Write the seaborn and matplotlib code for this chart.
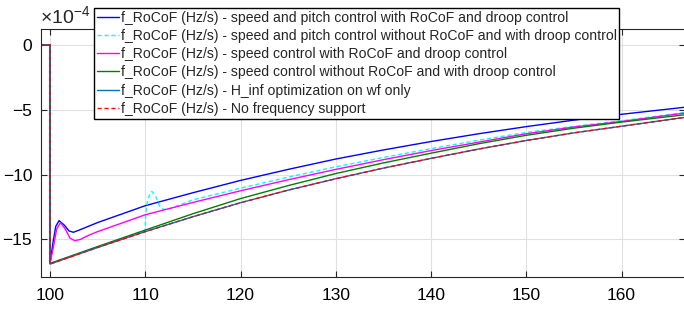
import matplotlib
matplotlib.use("Agg")
import matplotlib.pyplot as plt
import pandas as pd
import seaborn as sns

# values are in units of 1e-4 Hz/s (axis shows x10^-4)
t_blue = [99, 100, 100, 100.3, 100.6, 100.95, 101.5, 102.0, 102.45, 103, 104, 105, 110,
          115, 120, 125, 130, 135, 140, 145, 150, 155, 160, 166.7]
v_blue = [0, 0, -16.85, -15.3, -14.0, -13.55, -13.9, -14.35, -14.45, -14.3, -14.0, -13.7, -12.4,
          -11.4, -10.45, -9.6, -8.8, -8.1, -7.45, -6.85, -6.3, -5.8, -5.35, -4.8]

t_cyan = [99, 100, 100, 104.2, 110, 110.05, 110.3, 110.7, 111.1, 111.5, 111.9, 112.5,
          115, 120, 125, 130, 135, 140, 145, 150, 155, 160, 166.7]
v_cyan = [0, 0, -16.85, -15.8, -14.3, -13.0, -11.8, -11.3, -11.7, -12.4, -12.7, -12.65,
          -11.95, -11.05, -10.2, -9.4, -8.68, -8.0, -7.35, -6.75, -6.28, -5.85, -5.2]

t_mag = [99, 100, 100, 100.3, 100.7, 101.1, 101.6, 102.1, 102.6, 103.2, 104, 105, 110,
         115, 120, 125, 130, 135, 140, 145, 150, 155, 160, 166.7]
v_mag = [0, 0, -16.85, -15.8, -14.2, -13.7, -14.2, -14.9, -15.1, -15.0, -14.7, -14.4, -13.1,
         -12.15, -11.25, -10.4, -9.6, -8.85, -8.15, -7.5, -6.85, -6.33, -5.9, -5.25]

t_base = [99, 100, 100, 105, 110, 115, 120, 125, 130, 135, 140, 145, 150, 155, 160, 166.7]
v_green = [0, 0, -16.85, -15.55, -14.28, -13.02, -11.85, -10.85, -9.92, -9.1, -8.35, -7.62,
           -6.97, -6.42, -5.95, -5.38]
v_hinf = [0, 0, -16.9, -15.62, -14.4, -13.25, -12.17, -11.2, -10.32, -9.5, -8.75, -8.03,
          -7.37, -6.78, -6.27, -5.58]
v_nosup = [0, 0, -16.9, -15.62, -14.4, -13.25, -12.17, -11.2, -10.32, -9.5, -8.75, -8.03,
           -7.37, -6.78, -6.27, -5.58]

labels = [
    "f_RoCoF (Hz/s) - speed and pitch control with RoCoF and droop control",
    "f_RoCoF (Hz/s) - speed and pitch control without RoCoF and with droop control",
    "f_RoCoF (Hz/s) - speed control with RoCoF and droop control",
    "f_RoCoF (Hz/s) - speed control without RoCoF and with droop control",
    "f_RoCoF (Hz/s) - H_inf optimization on wf only",
    "f_RoCoF (Hz/s) - No frequency support",
]

sns.set_theme(style="whitegrid")
plt.rcParams["font.family"] = ["Liberation Sans", "DejaVu Sans"]
plt.rcParams["mathtext.fontset"] = "custom"
plt.rcParams["mathtext.rm"] = "Liberation Sans"
plt.rcParams["mathtext.it"] = "Liberation Sans"

fig = plt.figure(figsize=(6.84, 3.10), dpi=100)
ax = fig.add_axes([40.5 / 684, 1 - 277 / 310, 1.002 - 40.5 / 684, (277 - 29) / 310])

series = [
    (t_blue, v_blue, (0, 0, 1), None),
    (t_cyan, v_cyan, (0, 1, 1), (3, 2)),
    (t_mag, v_mag, (1, 0, 1), None),
    (t_base, v_green, (0, 0.5, 0), None),
    (t_base, v_hinf, (0, 0.447, 0.741), None),
    (t_base, v_nosup, (1, 0, 0), (3, 2)),
]
for (t, v, c, d), lab in zip(series, labels):
    df = pd.DataFrame({"t": t, "v": v})
    line = sns.lineplot(x="t", y="v", data=df, ax=ax, color=c, linewidth=1.0,
                        sort=False, estimator=None, label=lab)
    if d is not None:
        line.lines[-1].set_dashes(d)

ax.set_xlim(99, 166.7)
ax.set_ylim(-17.9, 1.23)
ax.set_xticks([100, 110, 120, 130, 140, 150, 160])
ax.set_yticks([0, -5, -10, -15])
ax.set_xlabel("")
ax.set_ylabel("")
ax.set_facecolor("white")
ax.grid(True, color="#e0e0e0", linewidth=0.8)
for s in ax.spines.values():
    s.set_visible(True)
    s.set_color("#262626")
    s.set_linewidth(0.8)
ax.tick_params(direction="in", length=4, width=0.8, colors="#262626",
               top=True, right=True, bottom=True, left=True, labelsize=12.5,
               labelcolor="black")
ax.tick_params(axis="x", pad=8)
ax.tick_params(axis="y", pad=6)

fig.text(40 / 684, 1 - 27 / 310, r"$\times10^{-4}$", fontsize=14, va="bottom", ha="left")

leg = ax.legend(loc="upper left", bbox_to_anchor=(94 / 684, 1 - 8 / 310),
                bbox_transform=fig.transFigure, fontsize=10.05, frameon=True,
                fancybox=False, framealpha=1, edgecolor="black",
                handlelength=1.6, handletextpad=0.1, borderpad=0.2,
                labelspacing=0.3, borderaxespad=0)
leg.get_frame().set_linewidth(1.0)

fig.savefig("out.png", dpi=100)
